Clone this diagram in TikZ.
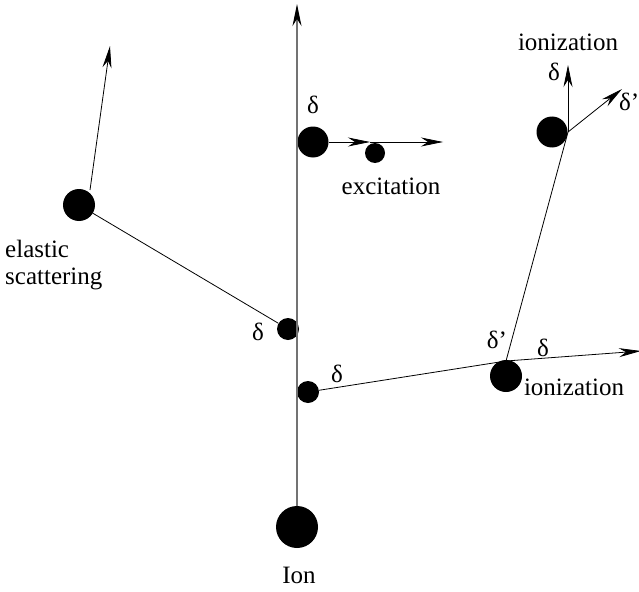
\documentclass[tikz,border=0pt]{standalone}
\usepackage{fontspec}
\setmainfont{LiberationSerif-Regular.ttf}[Ligatures=TeX]
\usetikzlibrary{arrows.meta}
\begin{document}
\begin{tikzpicture}[x=1pt,y=-1pt,
  lbl/.style={font=\rmfamily\fontsize{25}{28}\selectfont, inner sep=0pt},
  ball/.style={circle, fill=black, inner sep=0pt, minimum size=#1},
  tip/.style={-{Stealth[length=22pt,width=9pt,inset=7pt,black]}},
  thin line/.style={line width=0.8pt}]
\useasboundingbox (0,0) rectangle (639,591);
% nodes
\node[ball=42pt] (ion) at (297,527) {};
\node[ball=31pt] (d1) at (313,142) {};
\node[ball=20pt] (exc) at (375,153) {};
\node[ball=22pt] (d2) at (288,329) {};
\node[ball=22pt] (d3) at (308,392) {};
\node[ball=32pt] (el) at (79,205) {};
\node[ball=32pt] (ion2) at (506,376) {};
\node[ball=31pt] (ion3) at (552,132) {};
\coordinate (top) at (297,4);
\coordinate (j) at (506,361);
\coordinate (rt) at (641,351);
\coordinate (u3) at (568,132);
\coordinate (u3up) at (568,65);
\coordinate (u3d) at (622,89);
\coordinate (elb) at (90,190);
\coordinate (elt) at (110,46);
\coordinate (d1r) at (329,142);
\coordinate (d1m) at (370,142);
\coordinate (d1e) at (443,142);
% main ion track
\draw[tip, line width=1.2pt, draw=black!55] (ion.north) -- (top);
% excitation
\draw[thin line, tip] (d1r) -- (d1m);
\draw[thin line, tip] (d1m) -- (d1e);
% elastic
\draw[thin line] (d2) -- (el);
\draw[thin line, tip] (elb) -- (elt);
% ionization
\draw[thin line] (d3) -- (j);
\draw[thin line, tip] (j) -- (rt);
\draw[thin line] (j) -- (u3);
\draw[thin line, tip] (u3) -- (u3up);
\draw[thin line, tip] (u3) -- (u3d);
% labels
\node[lbl] (tIon) at (299,575) {Ion};
\node[lbl] (tExc) at (391,186) {excitation};
\node[lbl, anchor=west] (tEl1) at (5,249) {elastic};
\node[lbl, anchor=west] (tEl2) at (5,279) {scattering};
\node[lbl] (tIon2) at (574,387) {ionization};
\node[lbl] (tIon3) at (568,42) {ionization};
\node[lbl] (l1) at (313,105) {δ};
\node[lbl] (l2) at (258,332) {δ};
\node[lbl] (l3) at (337,374) {δ};
\node[lbl] (l4) at (497,340) {δ'};
\node[lbl] (l5) at (543,348) {δ};
\node[lbl] (l6) at (554,72) {δ};
\node[lbl, anchor=west] (l7) at (619,102) {δ'};
\end{tikzpicture}
\end{document}
